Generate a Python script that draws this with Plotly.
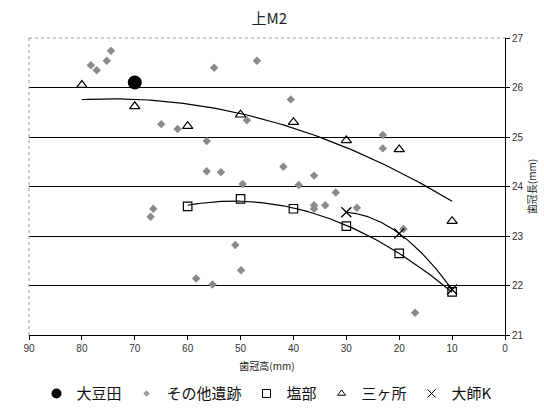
import numpy as np
import plotly.graph_objects as go

# 大豆田
omameda_x = [70]
omameda_y = [26.1]

# その他遺跡
other_x = [78.3, 77.2, 75.3, 74.5, 55.0, 46.9,
           65.0, 61.9, 56.4, 48.8, 56.4, 53.7, 49.6,
           40.5, 23.1, 23.1, 41.9, 36.1, 39.0,
           66.5, 67.0, 51.0, 49.9, 58.4, 55.3,
           32.0, 36.1, 36.1, 34.0, 28.0, 19.2, 17.0]
other_y = [26.45, 26.35, 26.54, 26.74, 26.40, 26.54,
           25.26, 25.16, 24.92, 25.34, 24.31, 24.29, 24.05,
           25.76, 25.04, 24.77, 24.40, 24.22, 24.03,
           23.55, 23.39, 22.82, 22.31, 22.14, 22.02,
           23.88, 23.62, 23.55, 23.62, 23.57, 23.14, 21.45]

# 塩部
shiobe_x = [60, 50, 40, 30, 20, 10]
shiobe_y = [23.6, 23.75, 23.55, 23.2, 22.65, 21.87]

# 三ヶ所
sangasho_x = [80, 70, 60, 50, 40, 30, 20, 10]
sangasho_y = [26.05, 25.62, 25.22, 25.45, 25.3, 24.93, 24.75, 23.3]

# 大師K
daishi_x = [30, 20, 10]
daishi_y = [23.48, 23.05, 21.92]

x_ticks = [0, 10, 20, 30, 40, 50, 60, 70, 80, 90]
y_ticks = [21, 22, 23, 24, 25, 26, 27]

JP = "Noto Sans CJK JP"
NUM = "Liberation Sans, Arial, sans-serif"


def trend(xs, ys, deg=2):
    """Second-order polynomial trendline over the span of the series."""
    coef = np.polyfit(xs, ys, deg)
    xx = np.linspace(min(xs), max(xs), 120)
    return xx, np.polyval(coef, xx)


fig = go.Figure()

# trendlines
for xs, ys in [(sangasho_x, sangasho_y), (shiobe_x, shiobe_y), (daishi_x, daishi_y)]:
    tx, ty = trend(xs, ys)
    fig.add_trace(go.Scatter(x=tx, y=ty, mode="lines", showlegend=False,
                             line=dict(color="black", width=1.2), hoverinfo="skip"))

fig.add_trace(go.Scatter(x=other_x, y=other_y, mode="markers", showlegend=False,
                         marker=dict(symbol="diamond", size=6.5, color="#8a8a8a")))
fig.add_trace(go.Scatter(x=shiobe_x, y=shiobe_y, mode="markers", showlegend=False,
                         marker=dict(symbol="square-open", size=8.5, color="black",
                                     line=dict(width=1.2, color="black"))))
fig.add_trace(go.Scatter(x=sangasho_x, y=sangasho_y, mode="markers", showlegend=False,
                         marker=dict(symbol="triangle-up-open", size=9, color="black",
                                     line=dict(width=1.2, color="black"))))
fig.add_trace(go.Scatter(x=daishi_x, y=daishi_y, mode="markers", showlegend=False,
                         marker=dict(symbol="x-thin-open", size=10, color="black",
                                     line=dict(width=1.2, color="black"))))
fig.add_trace(go.Scatter(x=omameda_x, y=omameda_y, mode="markers", showlegend=False,
                         marker=dict(symbol="circle", size=14, color="black")))

# legend entries
legend_items = [
    ("大豆田", dict(symbol="circle", size=10, color="black")),
    ("その他遺跡", dict(symbol="diamond", size=5, color="#9a9a9a")),
    ("塩部", dict(symbol="square-open", size=8, color="black", line=dict(width=1, color="black"))),
    ("三ヶ所", dict(symbol="triangle-up-open", size=7, color="black", line=dict(width=1, color="black"))),
    ("大師K", dict(symbol="x-thin-open", size=8, color="black", line=dict(width=1, color="#444"))),
]
for name, mk in legend_items:
    fig.add_trace(go.Scatter(x=[None], y=[None], mode="markers", name=name, marker=mk))

fig.update_layout(
    width=544, height=408,
    margin=dict(l=29, r=39, t=38, b=73, autoexpand=False),
    paper_bgcolor="white", plot_bgcolor="white",
    title=dict(text="上M2", x=0.495, xanchor="center", y=0.953, yanchor="middle",
               font=dict(family=JP, size=15, color="#222")),
    font=dict(family=NUM, color="#222"),
    xaxis=dict(range=[90, 0], tickvals=x_ticks, showgrid=False, zeroline=False,
               showline=True, linecolor="black", linewidth=1,
               ticks="outside", ticklen=4, tickcolor="black",
               tickfont=dict(family=NUM, size=10, color="#333"),
               title=dict(text="歯冠高(mm)", font=dict(family=JP, size=10, color="#222"),
                          standoff=9)),
    yaxis=dict(range=[21, 27], tickvals=y_ticks, side="right",
               showgrid=True, gridcolor="black", gridwidth=1, zeroline=False,
               showline=True, linecolor="black", linewidth=1,
               ticks="outside", ticklen=4, tickcolor="black",
               tickfont=dict(family=NUM, size=10, color="#333"),
               title=dict(text="歯冠長(mm)", font=dict(family=JP, size=10, color="#222"),
                          standoff=1)),
    legend=dict(orientation="h", x=0.5, xanchor="center",
                yref="container", y=0.035, yanchor="middle",
                font=dict(family=JP, size=15, color="#111"),
                itemwidth=30, tracegroupgap=0, bgcolor="rgba(0,0,0,0)"),
    shapes=[
        dict(type="line", xref="paper", yref="paper", x0=0, x1=1, y0=1, y1=1,
             line=dict(color="#9a9a9a", width=1.2, dash="dot"), layer="above"),
        dict(type="line", xref="paper", yref="paper", x0=0, x1=0, y0=0, y1=1,
             line=dict(color="#9a9a9a", width=1, dash="dot"), layer="above"),
    ],
)

fig.write_html("out.html")
